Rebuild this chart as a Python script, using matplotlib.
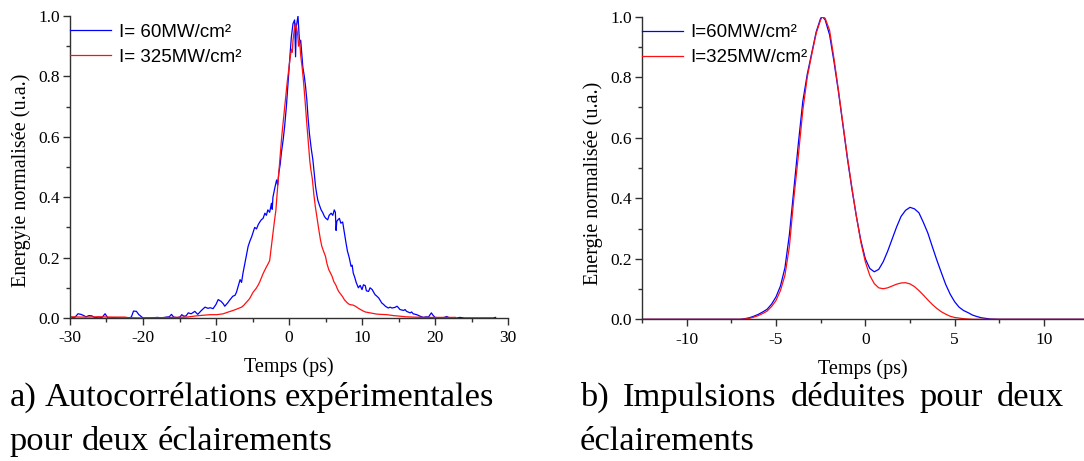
import matplotlib
matplotlib.use("Agg")
import matplotlib.pyplot as plt
from matplotlib.ticker import MultipleLocator, FormatStrFormatter

plt.rcParams["font.family"] = "Liberation Serif"
plt.rcParams["axes.unicode_minus"] = False

# ---------------------------------------------------------------- data
# a) measured autocorrelation traces (time delay in ps, normalised energy)
t_60 = [-29.8, -29.3, -28.9, -28.5, -28.2, -27.8, -27.4, -27.0, -26.6, -26.1,
        -25.6, -25.2, -24.8, -24.0, -23.0, -22.0, -21.6, -21.3, -20.9, -20.6,
        -20.4, -20.0, -19.0, -18.0, -17.5, -16.8, -16.4, -16.1, -15.8, -15.3,
        -14.9, -14.7, -14.4, -14.1, -13.8, -13.4, -12.9, -12.5, -12.0, -11.5,
        -11.1, -10.8, -10.4, -10.0, -9.7, -9.3, -9.0, -8.8, -8.4, -8.1,
        -7.7, -7.4, -7.2, -6.9, -6.7, -6.5, -6.3, -6.05, -5.9, -5.6,
        -5.35, -5.1, -4.9, -4.7, -4.45, -4.2, -4.0, -3.8, -3.55, -3.3,
        -3.1, -2.9, -2.65, -2.4, -2.3, -2.2, -1.95, -1.7, -1.55, -1.4,
        -1.2, -1.05, -0.8, -0.6, -0.36, -0.14, 0.09, 0.32, 0.55, 0.77,
        0.9, 1.0, 1.23, 1.45, 1.6, 1.7, 1.9, 2.1, 2.27, 2.45,
        2.6, 2.8, 3.05, 3.27, 3.45, 3.64, 3.8, 3.95, 4.15, 4.4,
        4.6, 4.86, 5.05, 5.3, 5.5, 5.77, 6.0, 6.2, 6.35, 6.45,
        6.55, 6.7, 6.9, 7.1, 7.35, 7.6, 7.8, 8.0, 8.25, 8.5,
        8.65, 8.8, 9.0, 9.2, 9.5, 9.75, 10.0, 10.2, 10.45, 10.6,
        10.9, 11.1, 11.4, 11.6, 11.8, 12.05, 12.3, 12.5, 12.7, 12.95,
        13.2, 13.6, 13.85, 14.1, 14.5, 14.8, 15.0, 15.2, 15.7, 15.9,
        16.1, 16.6, 16.8, 17.0, 17.5, 17.95, 18.4, 18.8, 19.1, 19.35,
        19.5, 19.7, 20.0, 20.7, 21.3, 21.6, 22.0, 23.0, 23.4, 24.0,
        26.0, 28.0, 28.3]
e_60 = [0.0, 0.003, 0.014, 0.012, 0.009, 0.004, 0.008, 0.007, 0.001, 0.003,
        0.002, 0.014, 0.0, 0.001, 0.0, 0.0, 0.003, 0.023, 0.022, 0.012,
        0.008, 0.0, 0.0, 0.002, 0.0, 0.003, 0.004, 0.012, 0.003, 0.001,
        0.004, 0.011, 0.006, 0.007, 0.017, 0.014, 0.022, 0.012, 0.025, 0.036,
        0.032, 0.034, 0.031, 0.045, 0.061, 0.055, 0.047, 0.039, 0.05, 0.06,
        0.072, 0.075, 0.085, 0.11, 0.127, 0.118, 0.149, 0.18, 0.20, 0.237,
        0.255, 0.27, 0.285, 0.30, 0.295, 0.31, 0.318, 0.325, 0.33, 0.347,
        0.34, 0.358, 0.35, 0.38, 0.36, 0.40, 0.43, 0.457, 0.44, 0.48,
        0.51, 0.546, 0.59, 0.634, 0.70, 0.777, 0.854, 0.93, 0.975, 0.987,
        0.865, 0.965, 1.0, 0.91, 0.92, 0.89, 0.83, 0.80, 0.766, 0.72,
        0.667, 0.61, 0.56, 0.524, 0.48, 0.435, 0.41, 0.39, 0.375, 0.358,
        0.35, 0.336, 0.33, 0.325, 0.34, 0.347, 0.34, 0.358, 0.35, 0.29,
        0.32, 0.325, 0.33, 0.314, 0.318, 0.28, 0.25, 0.222, 0.2, 0.171,
        0.175, 0.149, 0.135, 0.118, 0.10, 0.108, 0.094, 0.11, 0.107, 0.09,
        0.088, 0.1, 0.094, 0.085, 0.077, 0.072, 0.066, 0.058, 0.05, 0.045,
        0.039, 0.033, 0.036, 0.033, 0.035, 0.039, 0.034, 0.028, 0.025, 0.028,
        0.022, 0.017, 0.02, 0.014, 0.011, 0.006, 0.002, 0.004, 0.003, 0.012,
        0.017, 0.01, 0.002, 0.0, 0.002, 0.005, 0.0, 0.0, 0.002, 0.0,
        0.0, 0.0, 0.002]

t_325 = [-30.0, -28.0, -26.0, -24.0, -22.5, -22.0, -20.0, -18.0, -16.0, -14.0,
         -12.7, -11.8, -10.8, -9.9, -9.0, -8.3, -7.65, -7.0, -6.5, -6.2,
         -5.8, -5.4, -4.9, -4.5, -4.2, -4.0, -3.55, -3.1, -2.85, -2.65,
         -2.45, -2.2, -2.0, -1.8, -1.6, -1.4, -1.2, -1.0, -0.75, -0.5,
         -0.25, 0.0, 0.2, 0.35, 0.45, 0.55, 0.75, 0.9, 1.05, 1.2,
         1.3, 1.45, 1.6, 1.8, 2.0, 2.2, 2.45, 2.65, 2.85, 3.0,
         3.2, 3.4, 3.6, 3.85, 4.1, 4.3, 4.5, 4.75, 5.0, 5.2,
         5.45, 5.7, 5.9, 6.15, 6.4, 6.6, 6.8, 7.05, 7.3, 7.6,
         8.0, 8.2, 8.4, 8.75, 9.1, 9.45, 9.8, 10.1, 10.45, 11.1,
         12.0, 12.6, 13.4, 14.3, 15.2, 16.0, 17.0, 18.5, 19.8, 21.0,
         22.8]
e_325 = [0.004, 0.003, 0.004, 0.003, 0.003, 0.001, 0.0, 0.001, 0.002, 0.003,
         0.007, 0.009, 0.011, 0.011, 0.014, 0.02, 0.025, 0.031, 0.036, 0.042,
         0.053, 0.064, 0.086, 0.098, 0.11, 0.12, 0.147, 0.169, 0.18, 0.19,
         0.23, 0.28, 0.32, 0.356, 0.42, 0.48, 0.54, 0.60, 0.66, 0.72,
         0.78, 0.83, 0.87, 0.89, 0.88, 0.92, 0.96, 0.975, 0.96, 0.935,
         0.90, 0.92, 0.87, 0.83, 0.78, 0.72, 0.64, 0.58, 0.52, 0.49,
         0.46, 0.41, 0.37, 0.33, 0.29, 0.26, 0.237, 0.22, 0.204, 0.18,
         0.16, 0.148, 0.138, 0.12, 0.11, 0.098, 0.088, 0.08, 0.072, 0.06,
         0.05, 0.046, 0.044, 0.043, 0.039, 0.033, 0.028, 0.024, 0.02, 0.017,
         0.013, 0.012, 0.011, 0.008, 0.006, 0.004, 0.003, 0.002, 0.002, 0.002,
         0.002]

# b) retrieved pulse intensity profiles
t_pulse = [-12.5, -7.0, -6.75, -6.5, -6.25, -6.0, -5.75, -5.5, -5.25, -5.0,
           -4.75, -4.5, -4.25, -4.0, -3.75, -3.5, -3.25, -3.0, -2.75, -2.5,
           -2.4, -2.25, -2.0, -1.75, -1.5, -1.25, -1.0, -0.75, -0.5, -0.25,
           0.0, 0.25, 0.5, 0.75, 1.0, 1.25, 1.5, 1.75, 2.0, 2.25,
           2.5, 2.75, 3.0, 3.25, 3.5, 3.75, 4.0, 4.25, 4.5, 4.75,
           5.0, 5.25, 5.5, 5.75, 6.0, 6.25, 6.5, 6.75, 7.0, 7.5,
           12.5]
p_60 = [0.0, 0.0, 0.002, 0.005, 0.010, 0.016, 0.024, 0.033, 0.050, 0.074,
        0.110, 0.170, 0.28, 0.43, 0.58, 0.72, 0.81, 0.88, 0.95, 0.995,
        1.0, 0.99, 0.94, 0.85, 0.75, 0.64, 0.53, 0.43, 0.34, 0.26,
        0.20, 0.168, 0.157, 0.165, 0.19, 0.225, 0.265, 0.305, 0.34, 0.36,
        0.370, 0.365, 0.352, 0.32, 0.285, 0.24, 0.196, 0.155, 0.115, 0.083,
        0.058, 0.040, 0.029, 0.022, 0.014, 0.009, 0.005, 0.003, 0.001, 0.0,
        0.0]
p_325 = [0.0, 0.0, 0.001, 0.003, 0.007, 0.012, 0.019, 0.027, 0.042, 0.062,
         0.095, 0.145, 0.24, 0.40, 0.54, 0.69, 0.80, 0.875, 0.945, 0.99,
         1.0, 0.995, 0.955, 0.86, 0.755, 0.645, 0.535, 0.435, 0.34, 0.255,
         0.19, 0.145, 0.118, 0.104, 0.101, 0.104, 0.11, 0.116, 0.12, 0.121,
         0.117, 0.108, 0.095, 0.08, 0.064, 0.049, 0.036, 0.025, 0.017, 0.010,
         0.006, 0.004, 0.002, 0.001, 0.0, 0.0, 0.0, 0.0, 0.0, 0.0,
         0.0]

labels_a = ["I= 60MW/cm²", "I= 325MW/cm²"]
labels_b = ["I=60MW/cm²", "I=325MW/cm²"]
xlabel = "Temps (ps)"
ylabel_a = "Energyie normalisée (u.a.)"
ylabel_b = "Energie normalisée (u.a.)"
caption_a = ["a) Autocorrélations expérimentales", "pour deux éclairements"]
caption_b = ["b) Impulsions déduites pour deux", "éclairements"]

# ---------------------------------------------------------------- layout
W, H = 1084, 461
BLUE = "#0000ff"
RED = "#ff1010"
fig = plt.figure(figsize=(W / 100, H / 100), dpi=100)


def px_box(x0, y_top, x1, y_bot):
    return [x0 / W, 1 - y_bot / H, (x1 - x0) / W, (y_bot - y_top) / H]


def style_axes(ax, xmajor, xminor):
    for side in ("top", "right"):
        ax.spines[side].set_visible(False)
    for side in ("left", "bottom"):
        ax.spines[side].set_color("#303030")
        ax.spines[side].set_linewidth(1.0)
    ax.set_ylim(0, 1.0)
    ax.yaxis.set_major_locator(MultipleLocator(0.2))
    ax.yaxis.set_minor_locator(MultipleLocator(0.1))
    ax.yaxis.set_major_formatter(FormatStrFormatter("%.1f"))
    ax.xaxis.set_major_locator(MultipleLocator(xmajor))
    ax.xaxis.set_minor_locator(MultipleLocator(xminor))
    ax.tick_params(which="both", direction="out", color="#303030", width=1.0)
    ax.tick_params(which="major", length=5, labelsize=12.5, pad=2)
    ax.tick_params(axis="x", which="major", pad=4)
    ax.tick_params(which="minor", length=3)
    ax.set_xlabel(xlabel, fontsize=14.5, labelpad=8)


LEG = dict(loc="upper left", bbox_to_anchor=(0.0, 0.975), frameon=False,
           prop={"family": "Liberation Sans", "size": 13.5},
           handlelength=2.2, handletextpad=0.4, borderpad=0,
           borderaxespad=0, labelspacing=0.42)

ax1 = fig.add_axes(px_box(70, 16, 508, 318))
ax1.plot(t_60, e_60, color=BLUE, lw=0.9, label=labels_a[0])
ax1.plot(t_325, e_325, color=RED, lw=0.9, label=labels_a[1])
ax1.set_xlim(-30, 30)
style_axes(ax1, 10, 5)
ax1.set_ylabel(ylabel_a, fontsize=14.5)
ax1.yaxis.set_label_coords(-39 / 438, 0.455)
ax1.legend(**LEG)

ax2 = fig.add_axes(px_box(642, 16.7, 1084, 319.3))
ax2.plot(t_pulse, p_60, color=BLUE, lw=0.9, label=labels_b[0])
ax2.plot(t_pulse, p_325, color=RED, lw=0.9, label=labels_b[1])
ax2.set_xlim(-12.5, 12.24)
style_axes(ax2, 5, 2.5)
ax2.set_ylabel(ylabel_b, fontsize=14.5)
ax2.yaxis.set_label_coords(-39 / 442, 0.45)
ax2.legend(**LEG)

# ---------------------------------------------------------------- captions
renderer = fig.canvas.get_renderer()
CAP_SIZE = 24.8


def caption_line(text, x0, x1, y_base, justify):
    words = text.split(" ")
    items = [fig.text(0, 1 - y_base / H, w, fontsize=CAP_SIZE, va="baseline",
                      ha="left") for w in words]
    widths = [t.get_window_extent(renderer).width for t in items]
    space = fig.text(0, 0, "a a", fontsize=CAP_SIZE)
    pair = fig.text(0, 0, "aa", fontsize=CAP_SIZE)
    gap = (space.get_window_extent(renderer).width
           - pair.get_window_extent(renderer).width)
    space.remove()
    pair.remove()
    if justify and len(words) > 1:
        gap = (x1 - x0 - sum(widths)) / (len(words) - 1)
    x = x0
    for t, w in zip(items, widths):
        t.set_x(x / W)
        x += w + gap


caption_line(caption_a[0], 10, 494, 406, True)
caption_line(caption_a[1], 10, 494, 450, False)
caption_line(caption_b[0], 580, 1064, 406, True)
caption_line(caption_b[1], 580, 1064, 450, False)

fig.savefig("out.png", dpi=100)
